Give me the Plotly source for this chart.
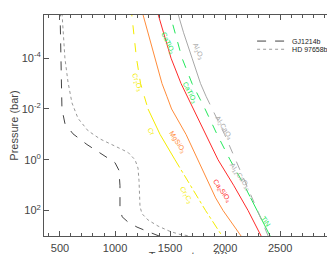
import plotly.graph_objects as go

# ---- data ----
# shared pressure grid (log10 bar) for condensation curves
cond_logp = [-6, -5, -4, -3, -2.5, -2, -1, 0, 1, 1.5, 2, 3]
cr_T    = [1145, 1168, 1195, 1232, 1263, 1300, 1409, 1545, 1682, 1750, 1823, 1973]
mgsio3_T = [1236, 1300, 1359, 1427, 1471, 1514, 1645, 1750, 1859, 1914, 1982, 2145]
ca2sio4_T = [1373, 1441, 1509, 1600, 1655, 1714, 1823, 1936, 2077, 2145, 2209, 2327]
catio3_T = [1482, 1545, 1609, 1700, 1759, 1818, 1927, 2045, 2173, 2232, 2291, 2409]
al2o3_T = [1555, 1623, 1700, 1777, 1827, 1882, 1995, 2095, 2191, 2245, 2295, 2391]

# T-P profiles
gj_T = [500, 509, 518, 545, 618, 745, 891, 1000, 1036, 1045, 1045, 1064, 1118, 1200, 1318, 1400]
gj_P = [1e-6, 1e-4, 1e-2, 0.037, 0.095, 0.25, 0.63, 1.3, 2.6, 10.5, 69, 174, 282, 447, 724, 1000]
hd_T = [515, 545, 573, 609, 664, 755, 864, 1000, 1118, 1182, 1209, 1218, 1227, 1245, 1300, 1391, 1500, 1591, 1682]
hd_P = [1e-6, 1e-4, 8.7e-4, 5.75e-3, 0.0234, 0.072, 0.151, 0.295, 0.51, 1.0, 2.14, 6.6, 69, 132, 234, 407, 660, 871, 1000]

x_ticks = [500, 1000, 1500, 2000, 2500]
y_ticks = [1e-4, 1e-2, 1, 1e2]
y_ticktext = ["10<sup>-4</sup>", "10<sup>-2</sup>", "10<sup>0</sup>", "10<sup>2</sup>"]

cond_P = [10 ** v for v in cond_logp]

YEL = "#f4ec00"
ORA = "#ff8c3a"
RED = "#ff2a2a"
GRN = "#22e85a"
GRY = "#a8a8a8"
FONT = "Liberation Sans"

fig = go.Figure()


def seg(T, i0, i1, color, dash, width=1):
    fig.add_trace(go.Scatter(x=T[i0:i1 + 1], y=cond_P[i0:i1 + 1], mode="lines",
                             line=dict(color=color, dash=dash, width=width),
                             showlegend=False, hoverinfo="skip"))


# yellow Cr2O3 / Cr / Cr7C3
seg(cr_T, 0, 5, YEL, "dash")
seg(cr_T, 5, 7, YEL, "solid")
seg(cr_T, 7, 11, YEL, "dashdot")
# orange MgSiO3
seg(mgsio3_T, 0, 11, ORA, "solid")
# red Ca2SiO4
seg(ca2sio4_T, 0, 11, RED, "solid")
# green CaTiO3 / TiN
seg(catio3_T, 0, 9, GRN, "dash")
seg(catio3_T, 9, 11, GRN, "solid")
# grey Al2O3 / Al2CaO4 / Al12CaO19
seg(al2o3_T, 0, 4, GRY, "solid")
seg(al2o3_T, 4, 11, GRY, "dash")

fig.add_trace(go.Scatter(x=gj_T, y=gj_P, mode="lines", name="GJ1214b", legend="legend",
                         line=dict(color="#444444", dash="dash", width=1)))
fig.add_trace(go.Scatter(x=hd_T, y=hd_P, mode="lines", name="HD 97658b", legend="legend2",
                         line=dict(color="#999999", dash="dot", width=1)))

labels = [
    ("CaTiO<sub>3</sub>", 1482, -4.61, 65, GRN),
    ("Al<sub>2</sub>O<sub>3</sub>", 1755, -4.29, 65, GRY),
    ("Cr<sub>2</sub>O<sub>3</sub>", 1200, -3.06, 70, YEL),
    ("CaTiO<sub>3</sub>", 1673, -2.65, 62, GRN),
    ("Al<sub>2</sub>CaO<sub>4</sub>", 1991, -1.27, 58, GRY),
    ("Cr", 1327, -1.10, 60, YEL),
    ("MgSiO<sub>3</sub>", 1564, -0.69, 57, ORA),
    ("Al<sub>12</sub>CaO<sub>19</sub>", 2136, 0.69, 55, GRY),
    ("Ca<sub>2</sub>SiO<sub>4</sub>", 1973, 1.22, 55, RED),
    ("Cr<sub>7</sub>C<sub>3</sub>", 1645, 1.39, 60, YEL),
    ("TiN", 2373, 2.41, 55, GRN),
]
for txt, x, y, ang, col in labels:
    fig.add_annotation(x=x, y=y, text=txt, showarrow=False, textangle=ang,
                       font=dict(size=7, color=col, family=FONT))

axis_common = dict(showline=True, linecolor="#555555", linewidth=1, mirror="ticks",
                   ticks="inside", tickcolor="#555555", showgrid=False, zeroline=False,
                   automargin=False,
                   tickfont=dict(size=11, color="#444444", family=FONT))

legend_common = dict(xanchor="left", yanchor="middle", bgcolor="rgba(0,0,0,0)",
                     font=dict(size=7, color="#222222", family=FONT),
                     itemwidth=30, borderwidth=0)

# page body has an 8px default margin: the figure is shifted 8px right/down in the window,
# so the x title falls partly below the visible area, as in the original
fig.update_layout(
    width=327, height=254,
    margin=dict(l=36, r=2, t=7, b=26),
    paper_bgcolor="white", plot_bgcolor="white",
    template="none",
    xaxis=dict(range=[355, 2980], tickvals=x_ticks, ticklen=5, ticklabelstandoff=2,
               minor=dict(dtick=100, ticks="inside", ticklen=3, tickcolor="#555555", showgrid=False),
               title=dict(text="Temperature (K)", font=dict(size=11, color="#444444", family=FONT),
                          standoff=8),
               **axis_common),
    yaxis=dict(type="log", range=[3, -5.7], tickvals=y_ticks, ticktext=y_ticktext, ticklen=5,
               title=dict(text="Pressure (bar)", font=dict(size=11, color="#444444", family=FONT),
                          standoff=6),
               **axis_common),
    legend=dict(x=0.72, y=0.882, **legend_common),
    legend2=dict(x=0.72, y=0.845, **legend_common),
    showlegend=True,
)

fig.write_html("out.html")
